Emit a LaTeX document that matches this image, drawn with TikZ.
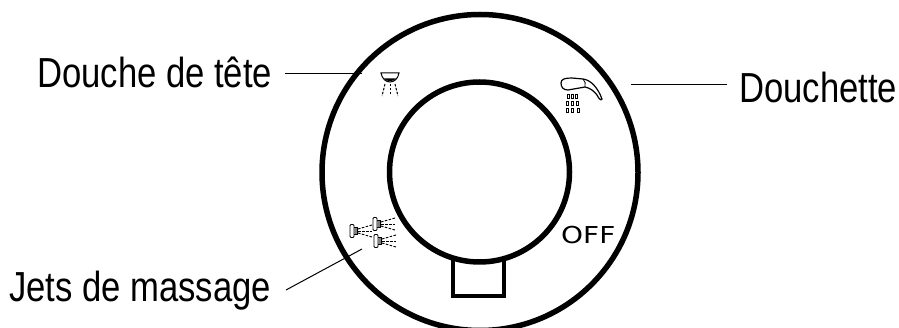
\documentclass[tikz,border=0pt]{standalone}
\usepackage{fontspec}
\setmainfont{Liberation Sans}
\newfontfamily\narrowfont[FakeStretch=0.825]{Liberation Sans}
\newfontfamily\offfont[FakeStretch=1.2]{DejaVu Sans}
\tikzset{
  ring/.style={draw=black,line width=5.5pt},
  boxline/.style={draw=black,line width=4.5pt},
  leader/.style={draw=black,line width=1pt},
  lbl/.style={font=\narrowfont\fontsize{42}{42}\selectfont,inner sep=0pt,anchor=base west},
  icon/.style={draw=black,line width=0.8pt},
  iconbold/.style={draw=black,line width=1.2pt},
  spray/.style={draw=black,line width=0.9pt,dash pattern=on 2.5pt off 1.5pt},
  sprayv/.style={draw=black,line width=1pt,dash pattern=on 2.5pt off 1.5pt}
}
\begin{document}
\begin{tikzpicture}[x=1pt,y=-1pt]
\useasboundingbox (0,0) rectangle (899,328);
\draw[ring] (480,172.5) circle (158);
\draw[ring] (479.5,172) circle (90);
\draw[boxline] (453,258) -- (453,296) -- (504,296) -- (504,258);
\node[lbl] (t1) at (37,88) {Douche de tête};
\node[lbl] (t2) at (739,103) {Douchette};
\node[lbl] (t3) at (9,302) {Jets de massage};
\node[inner sep=0pt,anchor=base west,font=\offfont\fontsize{23.3}{23.3}\selectfont] (off) at (561,244) {OFF};
\coordinate (s1) at (285,74);
\coordinate (a1) at (362,74);
\coordinate (s2) at (727,85);
\coordinate (a2) at (631,85);
\coordinate (s3) at (286,290);
\coordinate (a3) at (362,249);
\draw[leader] (s1) -- (a1);
\draw[leader] (s2) -- (a2);
\draw[leader] (s3) -- (a3);
% head shower
\draw[iconbold,line width=1pt] (381,73) -- (399,73) .. controls (398,79) and (394,82) .. (390,82) .. controls (386,82) and (382,79) .. (381,73) -- cycle;
\fill[black] (384,78.5) .. controls (386,82) and (394,82) .. (396,78.5) -- cycle;
\draw[sprayv] (390,84) -- (390,96);
\draw[sprayv] (385,84) -- (382,96);
\draw[sprayv] (395,84) -- (398,96);
% hand shower
\draw[iconbold] (561,83) .. controls (561,79) and (565,78) .. (572,78) -- (583,79) .. controls (591,80) and (598,88) .. (602,99) .. controls (601,101) and (599,99) .. (597,95) .. controls (594,91) and (590,88) .. (585,87) -- (568,90) .. controls (563,90) and (561,87) .. (561,83) -- cycle;
\draw[icon] (583,79) .. controls (585,81) and (586,84) .. (585,87);
\foreach \x/\y in {567/94,571/94,575/94,566.5/101,571/101,576/101,566/108,571/108,577/108}{
  \draw[icon,line width=.9pt] (\x,\y) rectangle ++(2.2,4.5);
}
% massage jets
\foreach \px/\py in {352/231,375/224,376/241}{
  \draw[icon,fill=white,rounded corners=1pt] (\px-2,\py-6.5) rectangle (\px+2,\py+6.5);
  \draw[icon,fill=gray] (\px+2,\py-3.5) -- (\px+5,\py-3.5) -- (\px+5,\py+3.5) -- (\px+2,\py+3.5);
  \draw[spray] (\px+6,\py-2) -- (\px+20,\py-6);
  \draw[spray] (\px+6,\py) -- (\px+20,\py);
  \draw[spray] (\px+6,\py+2) -- (\px+20,\py+6);
}
\end{tikzpicture}
\end{document}
